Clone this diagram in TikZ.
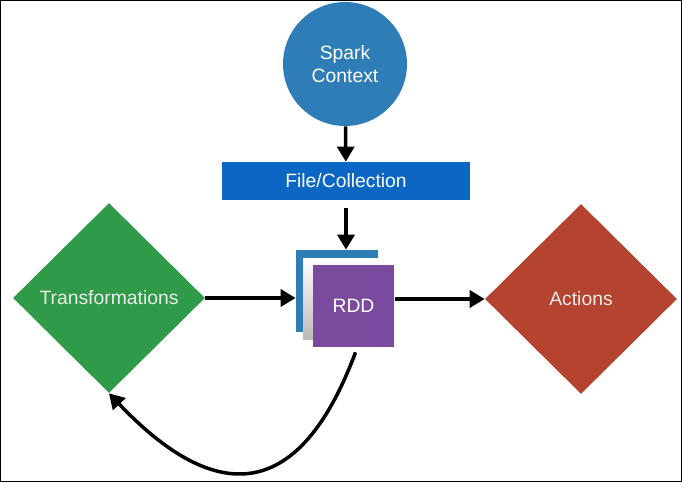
\documentclass[tikz,border=0pt]{standalone}
\usepackage{fontspec}
\setmainfont{Liberation Sans}
\usepackage{tikz}
\usetikzlibrary{arrows.meta,positioning,shapes.geometric,calc}
\usepackage{xcolor}
\definecolor{spBlue}{HTML}{2F7DB6}
\definecolor{spFile}{HTML}{0B66C4}
\definecolor{spGreen}{HTML}{2F9A48}
\definecolor{spRed}{HTML}{B4432F}
\definecolor{spPurple}{HTML}{7A4A9E}
\tikzset{
    spContext/.style={
        circle,
        fill=spBlue,
        text=white,
        align=center,
        inner sep=0pt,
        minimum size=2.48cm,
        font=\fontsize{11}{13}\selectfont
    },
    spFileBox/.style={
        rectangle,
        fill=spFile,
        text=white,
        minimum width=4.96cm,
        minimum height=0.76cm,
        font=\fontsize{11}{13}\selectfont
    },
    spDiamond/.style={
        diamond,
        aspect=1,
        text=white!92!black,
        inner sep=0pt,
        minimum width=3.84cm,
        minimum height=3.8cm,
        font=\fontsize{11}{13}\selectfont
    },
    spPage/.style={
        rectangle,
        inner sep=0pt,
        minimum width=1.64cm,
        minimum height=1.64cm
    },
    spArrow/.style={-{Triangle[length=0.3cm,width=0.34cm]},line width=2pt,black}
}
\begin{document}
\begin{tikzpicture}[x=0.02cm,y=-0.02cm]
    % Frame
    \useasboundingbox (0,0) rectangle (682,482);
    \draw[line width=0.8pt] (0.5,0.5) rectangle (681.5,481.5);

    % Source nodes
    \node[spContext] (ctx) at (345,64) {Spark\\Context};
    \node[spFileBox] (file) at (346,181) {File/Collection};

    % RDD stack
    \node[spPage,fill=spBlue] (back) at (337,291) {};
    \node[spPage,top color=white,bottom color=gray!55] (mid) at (344,299) {};
    \node[spPage,fill=spPurple,text=white,font=\fontsize{11}{13}\selectfont] (rdd) at (353.5,306) {RDD};

    % Operations
    \node[spDiamond,fill=spGreen] (trans) at (109,298) {Transformations};
    \node[spDiamond,fill=spRed] (act) at (581,299) {Actions};

    % Flow
    \draw[spArrow] (ctx) -- (file);
    \draw[spArrow] ($(file.south)+(0,8)$) -- (back.north -| file.south);
    \draw[spArrow] (trans.east) -- (trans.east -| back.west);
    \draw[spArrow] (rdd.east |- act.west) -- (act.west);
    \draw[spArrow] ($(rdd.south)+(2,5)$) .. controls (290,528) and (195,484) .. (trans.south);
\end{tikzpicture}
\end{document}
